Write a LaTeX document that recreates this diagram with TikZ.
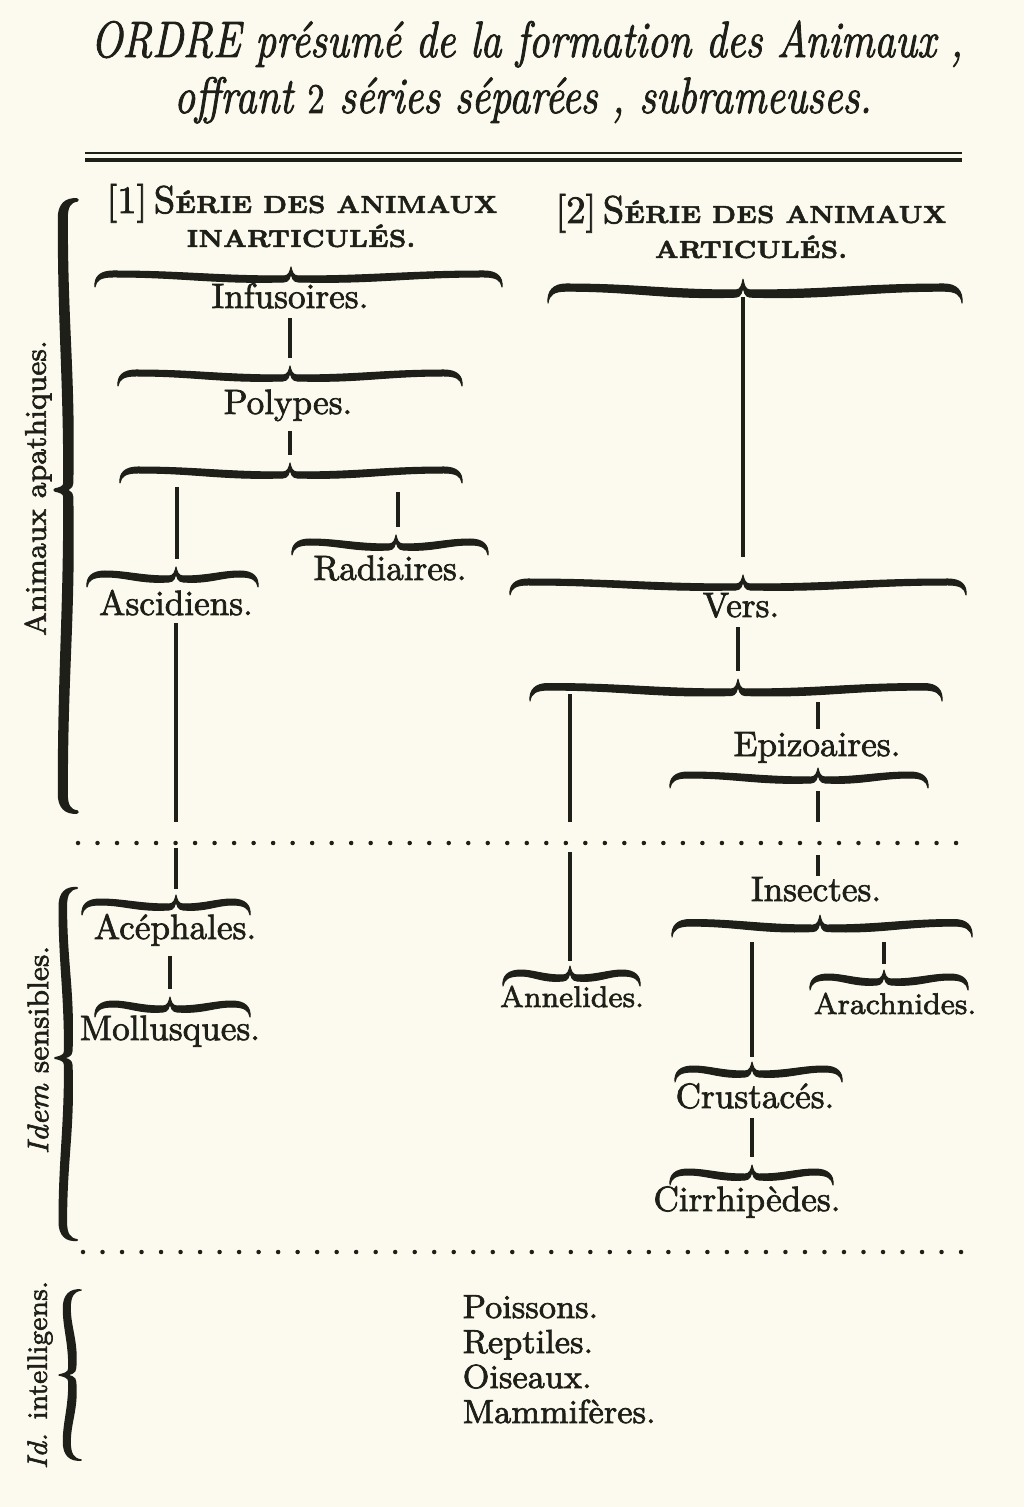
\documentclass[tikz,border=0pt]{standalone}
\usepackage{fontspec}
\setmainfont{Latin Modern Roman}[FakeBold=2]
\usepackage{graphicx}
\usepackage{tikz}
\definecolor{inkc}{RGB}{30,31,24}
\definecolor{paper}{RGB}{252,250,238}
\tikzset{
lbl/.style={ % Sets the properties for each group name
inner sep=0pt, anchor=base, text=inkc,
font=\fontsize{10}{12}\selectfont},
small/.style={lbl, font=\fontsize{8.5}{10}\selectfont},
ttl/.style={inner sep=0pt, anchor=base, text=inkc,
font=\fontsize{14.5}{17}\selectfont\itshape},
head/.style={inner sep=0pt, anchor=base, text=inkc},
side/.style={inner sep=0pt, text=inkc, rotate=90, % Labels along the left braces
font=\fontsize{8.5}{10}\selectfont},
item/.style={inner sep=0pt, anchor=base west, text=inkc,
font=\fontsize{9.5}{11}\selectfont},
stem/.style={draw=inkc, line width=0.035cm}, % Vertical links
gap/.style={shorten <=0.09cm, shorten >=0.08cm},
dotrow/.style={draw=inkc, line width=0.045cm, line cap=round,
dash pattern=on 0pt off 0.195cm},
ink/.style={fill=inkc, draw=inkc}}
\newcommand{\hdbig}[1]{{\fontsize{11}{13}\selectfont #1}}
\newcommand{\hdsml}[1]{{\fontsize{7}{9}\selectfont\bfseries #1}}
% brace along x from 0 to #2, cusp at #3, named #4
\newcommand{\brc}[4][]{%
\pgfmathsetmacro\bl{#2}%
\pgfmathsetmacro\bc{#3}%
\pgfmathsetmacro\bn{#2-#3}%
\filldraw[ink, line join=round, line width=0.01cm, #1]
(0,11) .. controls (-1,1) and (5,-5) .. (18,-5)
.. controls ({0.45*\bc},-5) and ({0.6*\bc},0) .. ({\bc-7},0)
.. controls ({\bc-2},0) and ({\bc-1},-5) .. (\bc,-9)
.. controls ({\bc+1},-5) and ({\bc+2},0) .. ({\bc+7},0)
.. controls ({\bc+0.4*\bn},0) and ({\bc+0.55*\bn},-5) .. ({\bl-18},-5)
.. controls ({\bl-5},-5) and ({\bl+1},1) .. (\bl,11)
.. controls ({\bl-1},4) and ({\bl-6},1) .. ({\bl-18},1)
.. controls ({\bc+0.55*\bn},1) and ({\bc+0.4*\bn},8) .. ({\bc+7},6)
.. controls ({\bc+2},6) and ({\bc+0.5},1) .. (\bc,-4)
.. controls ({\bc-0.5},1) and ({\bc-2},6) .. ({\bc-7},6)
.. controls ({0.6*\bc},8) and ({0.45*\bc},1) .. (18,1)
.. controls (6,1) and (1,4) .. (0,11) -- cycle;
\coordinate (#4) at (\bc,-9);
\coordinate (#4-b) at (\bc,6);}

\begin{document}
\begin{tikzpicture}[x=0.01cm, y=-0.01cm]
\fill[paper] (0,0) rectangle (1024,1507);
\useasboundingbox (0,0) rectangle (1024,1507);

% title and rules
\node[ttl] (ttl1) at (527,57) {\scalebox{0.82}[1]{ORDRE présumé de la formation des Animaux ,}};
\node[ttl] (ttl2) at (523,113) {\scalebox{0.82}[1]{offrant {\upshape\fontsize{12}{14}\selectfont 2} séries séparées , subrameuses.}};
\coordinate (r1) at (85,153); \coordinate (r1e) at (962,153);
\coordinate (r2) at (85,160); \coordinate (r2e) at (962,160);
\draw[inkc, line width=0.02cm] (r1) -- (r1e);
\draw[inkc, line width=0.04cm] (r2) -- (r2e);

% series headings
\node[head] (s1a) at (302,213) {\hdbig{[1]\,S}\hdsml{ÉRIE DES ANIMAUX}};
\node[head] (s1b) at (301,247) {\hdsml{INARTICULÉS.}};
\node[head] (s2a) at (751,223) {\hdbig{[2]\,S}\hdsml{ÉRIE DES ANIMAUX}};
\node[head] (s2b) at (751,258) {\hdsml{ARTICULÉS.}};

% braces
\begin{scope}[shift={(95,276)}] \brc{407}{196}{binf} \end{scope}
\begin{scope}[shift={(118,375)}] \brc{344}{172}{bpol} \end{scope}
\begin{scope}[shift={(120,472)}] \brc{342}{170}{bspl} \end{scope}
\begin{scope}[shift={(292,544)}] \brc{196}{104}{brad} \end{scope}
\begin{scope}[shift={(87,576)}] \brc{171}{89}{basc} \end{scope}
\begin{scope}[shift={(82,904)}] \brc{168}{94}{bace} \end{scope}
\begin{scope}[shift={(95,1006)}] \brc{155}{75}{bmol} \end{scope}
\begin{scope}[shift={(548,290)}, yscale=1.2] \brc{414}{195}{bart} \end{scope}
\begin{scope}[shift={(510,584)}] \brc{456}{233}{bver} \end{scope}
\begin{scope}[shift={(530,689)}, yscale=1.1] \brc{412}{208}{bvsp} \end{scope}
\begin{scope}[shift={(670,777)}] \brc{258}{148}{bepi} \end{scope}
\begin{scope}[shift={(672,925)}, yscale=1.1] \brc{300}{148}{bins} \end{scope}
\begin{scope}[shift={(810,979)}] \brc{158}{74}{bara} \end{scope}
\begin{scope}[shift={(503,975)}] \brc{137}{67}{bann} \end{scope}
\begin{scope}[shift={(675,1071)}] \brc{167}{77}{bcru} \end{scope}
\begin{scope}[shift={(670,1174)}] \brc{163}{82}{bcir} \end{scope}
% left braces
\begin{scope}[shift={(65,812)}, rotate=90, yscale=1.1] \brc[line width=0.035cm]{612}{322}{bapa} \end{scope}
\begin{scope}[shift={(65,1240)}, rotate=90, yscale=1.1] \brc[line width=0.02cm]{352}{182}{bsen} \end{scope}
\begin{scope}[shift={(69,1460)}, rotate=90, yscale=1.1] \brc[line width=0.015cm]{170}{85}{bint} \end{scope}

% group names
\node[lbl] (inf) at (290,308) {Infusoires.};
\node[lbl] (pol) at (288,414) {Polypes.};
\node[lbl] (rad) at (390,580) {Radiaires.};
\node[lbl] (asc) at (176,615) {Ascidiens.};
\node[lbl] (ace) at (175,939) {Acéphales.};
\node[lbl] (mol) at (170,1040) {Mollusques.};
\node[lbl] (vers) at (741,617) {Vers.};
\node[lbl] (epi) at (817,756) {Epizoaires.};
\node[lbl] (ins) at (816,901) {Insectes.};
\node[small] (ann) at (572,1007) {Annelides.};
\node[small] (ara) at (895,1014) {Arachnides.};
\node[lbl] (cru) at (755,1108) {Crustacés.};
\node[lbl] (cir) at (747,1211) {Cirrhipèdes.};
\node[item] (pois) at (462,1318) {Poissons.};
\node[item] (rept) at (462,1353) {Reptiles.};
\node[item] (ois) at (462,1388) {Oiseaux.};
\node[item] (mam) at (462,1423) {Mammifères.};
\node[side] (apa) at (38,488) {Animaux apathiques.};
\node[side] (sen) at (38,1050) {\textit{Idem} sensibles.};
\node[side, font=\fontsize{8}{10}\selectfont] (itl) at (40,1375) {\textit{Id.} intelligens.};

% dotted separators
\coordinate (dl1) at (78,843); \coordinate (dl1e) at (967,843);
\coordinate (dl2) at (83,1252); \coordinate (dl2e) at (965,1252);
\draw[dotrow] (dl1) -- (dl1e);
\draw[dotrow] (dl2) -- (dl2e);

% links
\coordinate (spl-l) at (177,487);
\coordinate (spl-r) at (398,492);
\coordinate (vsp-l) at (570,694);
\coordinate (vsp-r) at (818,702);
\coordinate (ins-l) at (752,942);
\coordinate (ins-r) at (884,942);
\draw[stem, gap] (inf.south -| bpol) -- (bpol);
\draw[stem, gap] (pol.south -| bspl) -- (bspl);
\draw[stem, shorten >=0.08cm] (spl-l) -- (spl-l |- basc);
\draw[stem, shorten >=0.08cm] (spl-r) -- (spl-r |- brad);
\draw[stem, shorten <=0.07cm, shorten >=0.21cm] (asc.south) -- (asc.south |- dl1);
\draw[stem, shorten <=0.05cm, shorten >=0.06cm] (bace |- dl1) -- (bace);
\draw[stem, gap] (ace.south -| bmol) -- (bmol);
\draw[stem, shorten >=0.18cm] (bart-b) -- (bart-b |- bver);
\draw[stem, gap] (vers.south -| bvsp) -- (bvsp);
\draw[stem, shorten >=0.21cm] (vsp-l) -- (vsp-l |- dl1);
\draw[stem, shorten <=0.09cm, shorten >=0.05cm] (bann |- dl1) -- (bann);
\draw[stem, shorten >=0.02cm] (vsp-r) -- (vsp-r |- epi.north);
\draw[stem, shorten <=0.08cm, shorten >=0.21cm] (bepi-b) -- (bepi-b |- dl1);
\draw[stem, shorten <=0.12cm] (bepi-b |- dl1) -- (bepi-b |- ins.north);
\draw[stem, shorten >=0.05cm] (ins-l) -- (ins-l |- bcru);
\draw[stem, shorten >=0.06cm] (ins-r) -- (ins-r |- bara);
\draw[stem, gap] (cru.south -| bcir) -- (bcir);
\end{tikzpicture}
\end{document}
